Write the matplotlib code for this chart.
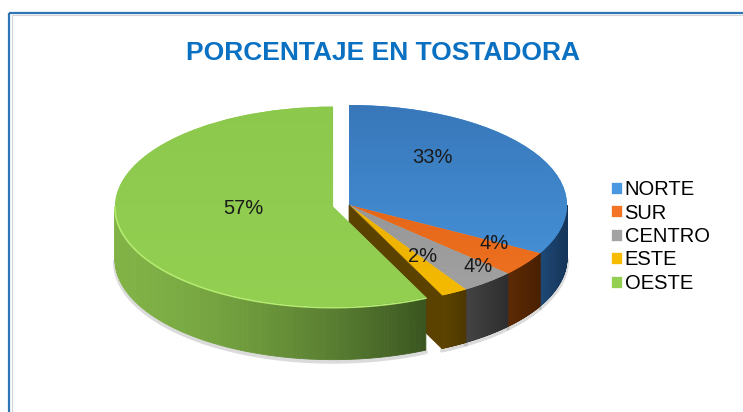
import numpy as np
import matplotlib.pyplot as plt
from matplotlib.patches import Polygon
from matplotlib.transforms import Affine2D
from matplotlib.colors import LinearSegmentedColormap, to_rgb

plt.rcParams['font.family'] = ['Liberation Sans', 'DejaVu Sans']

regiones = ['NORTE', 'SUR', 'CENTRO', 'ESTE', 'OESTE']
porcentajes = [33, 4, 4, 2, 57]
separacion = [0, 0, 0, 0, 0.075]

# top colour (light, dark) and side wall colour (left, right) per slice
tapa = [('#4a98e0', '#3776b8'), ('#f27424', '#d85c10'), ('#a3a3a3', '#8c8c8c'),
        ('#f6bc00', '#e2a400'), ('#93d052', '#8cc84c')]
pared = [('#1f4a78', '#15355a'), ('#5e2a04', '#4a2002'), ('#444444', '#2e2e2e'),
         ('#5e4500', '#4e3800'), ('#80b246', '#3a5520')]
etiquetas_xy = [(432, 157), (494, 243), (478, 266), (423, 256), (243, 208)]

W, H = 743, 412
fig = plt.figure(figsize=(W / 100, H / 100), dpi=100)
ax = fig.add_axes([0, 0, 1, 1])

cx, cy = 349, H - 205
rx, ry = 218, 100
k = ry / rx
fondo = 53

aplanar = Affine2D().translate(-cx, -cy).scale(1, k).translate(cx, cy) + ax.transData

# explode is given in data units, so scale the fractions by the radius
wedges, _ = ax.pie(porcentajes, radius=rx, center=(cx, cy), startangle=90,
                   counterclock=False, explode=[s * rx for s in separacion],
                   colors=[c[0] for c in tapa], wedgeprops=dict(linewidth=0))


def borde(w, t):
    x0, y0 = w.center
    return (x0 + w.r * np.cos(np.radians(t)),
            cy + k * (y0 - cy) + k * w.r * np.sin(np.radians(t)))


def tramo_frontal(w):
    a, b = max(w.theta1, -180), min(w.theta2, 0)
    return (a, b) if b > a else None


for i, w in enumerate(wedges):
    z = 4 if i == 4 else 1
    w.set_transform(aplanar)
    w.set_zorder(z + 1)

    # vertical gradient on the top face
    grad = np.linspace(0, 1, 200).reshape(-1, 1)
    cm = LinearSegmentedColormap.from_list('t%d' % i, tapa[i])
    im = ax.imshow(grad, cmap=cm, extent=(cx - 260, cx + 260, cy + 110, cy - 110),
                   aspect='auto', zorder=z + 1.5, interpolation='bilinear')
    im.set_clip_path(w)

    # side wall built from thin strips, shaded left to right
    tramo = tramo_frontal(w)
    if tramo is None:
        continue
    ts = np.linspace(tramo[0], tramo[1], 120)
    pts = np.array([borde(w, t) for t in ts])
    xs = pts[:, 0]
    x_min, x_max = xs.min(), xs.max()
    c0, c1 = np.array(to_rgb(pared[i][0])), np.array(to_rgb(pared[i][1]))
    for j in range(len(ts) - 1):
        f = ((xs[j] + xs[j + 1]) / 2 - x_min) / max(x_max - x_min, 1)
        if i == 4:
            f = f ** 1.6
        col = c0 + (c1 - c0) * f
        p = [pts[j], pts[j + 1], pts[j + 1] - [0, fondo], pts[j] - [0, fondo]]
        ax.add_patch(Polygon(p, closed=True, fc=col, ec=col, lw=0.6, zorder=z))
    # soft shadow under the wall
    ax.plot(pts[:, 0], pts[:, 1] - fondo - 2, color='#999999', alpha=0.35,
            lw=3, zorder=0.5, solid_capstyle='round')
    if i == 4:
        ax.plot(pts[:, 0], pts[:, 1] - 1, color='#b4ec70', lw=1.2, zorder=z + 2)

# cut face of ESTE left open by the separated OESTE slice
w = wedges[3]
ap = np.array([w.center[0], cy + k * (w.center[1] - cy)])
rim = np.array(borde(w, w.theta1))
ax.add_patch(Polygon([ap, rim, rim - [0, fondo], ap - [0, fondo]], closed=True,
                     fc='#5c4200', ec='#5c4200', lw=0.5, zorder=3))

for (x, y), v in zip(etiquetas_xy, porcentajes):
    ax.text(x, H - y, f'{v}%', fontsize=14.5, color='#1a1a1a',
            ha='center', va='center', zorder=10)

ax.text(383, H - 53, 'PORCENTAJE EN TOSTADORA', fontsize=19, fontweight='bold',
        color='#0a70c2', ha='center', va='center')

leg = ax.legend(wedges, regiones, loc='upper left', bbox_to_anchor=(601 / W, (H - 170) / H),
                bbox_transform=fig.transFigure, frameon=False, fontsize=14.5,
                handlelength=0.55, handleheight=0.55, handletextpad=0.12,
                labelspacing=0.22, borderpad=0)
for h in leg.legend_handles:
    h.set_edgecolor('#ffffff')
    h.set_linewidth(0.5)

# chart frame (top and left edges are all that show)
ax.plot([9, W], [H - 12.5, H - 12.5], color='#2e75b6', lw=1.6, solid_capstyle='butt')
ax.plot([9, 9], [0, H - 12.5], color='#2e75b6', lw=1.6, solid_capstyle='butt')
ax.plot([11.5, W], [H - 15, H - 15], color='#d4d4d4', lw=0.8)
ax.plot([11.5, 11.5], [0, H - 15], color='#d4d4d4', lw=0.8)

ax.set_xlim(0, W)
ax.set_ylim(0, H)
ax.set_aspect('auto')
ax.axis('off')
fig.savefig('out.png', dpi=100)
